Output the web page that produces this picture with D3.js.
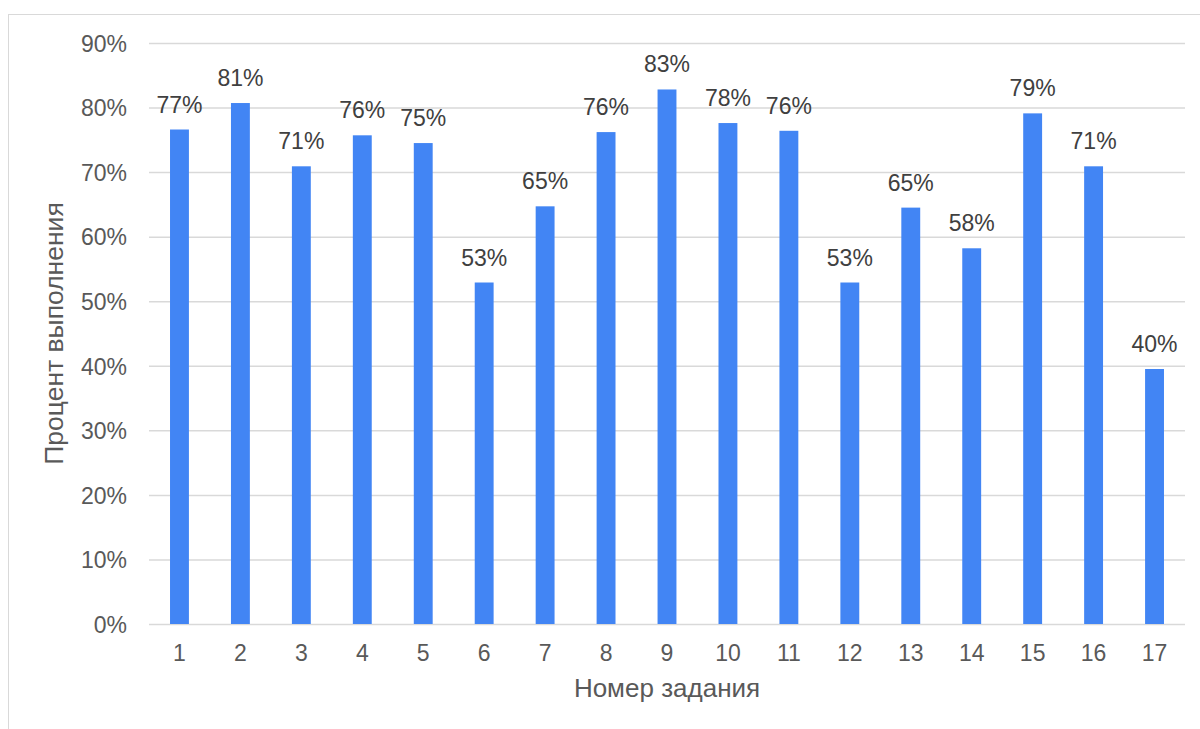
<!DOCTYPE html>
<html>
<head>
<meta charset="utf-8">
<script src="https://cdn.jsdelivr.net/npm/d3@7"></script>
<style>
  body { margin: 0; background: #fff; }
  svg { display: block; font-family: "Liberation Sans", Arial, sans-serif; }
</style>
</head>
<body>
<div id="vis"></div>
<script>
// task numbers and completion percent
const tasks = ["1", "2", "3", "4", "5", "6", "7", "8", "9", "10", "11", "12", "13", "14", "15", "16", "17"];
const percents = [76.6, 80.7, 70.9, 75.7, 74.5, 52.9, 64.7, 76.2, 82.8, 77.6, 76.4, 52.9, 64.5, 58.2, 79.1, 70.9, 39.5];
const yTicks = [0, 10, 20, 30, 40, 50, 60, 70, 80, 90];

const svgWidth = 1200, svgHeight = 729;
const margin = { left: 149, right: 15, top: 43, bottom: 105 };

let svg = d3.select("#vis").append("svg")
  .attr("width", svgWidth)
  .attr("height", svgHeight);

// outer chart frame (runs off the right and bottom edge)
svg.append("rect")
  .attr("x", 8.5).attr("y", 14.5)
  .attr("width", 1300).attr("height", 800)
  .attr("fill", "none")
  .attr("stroke", "#d9d9d9")
  .attr("stroke-width", 1);

let x = d3.scaleBand()
  .domain(tasks)
  .range([margin.left, svgWidth - margin.right])
  .paddingInner(0.69)
  .paddingOuter(0.345);

let y = d3.scaleLinear()
  .domain([0, 90])
  .range([svgHeight - margin.bottom, margin.top]);

// gridlines + y labels
let yAxis = svg.append("g")
  .attr("transform", `translate(${margin.left},0)`)
  .call(d3.axisLeft(y)
    .tickValues(yTicks)
    .tickSize(-(svgWidth - margin.left - margin.right))
    .tickPadding(22)
    .tickFormat(d => d + "%"));
yAxis.select(".domain").remove();
yAxis.selectAll(".tick line").attr("stroke", "#d9d9d9").attr("stroke-width", 1.5);
yAxis.selectAll(".tick text")
  .attr("fill", "#595959")
  .attr("font-size", 23)
  .attr("dy", "0.36em");

// bars
svg.append("g").selectAll("rect")
  .data(percents)
  .enter()
  .append("rect")
  .attr("x", (d, i) => x(tasks[i]))
  .attr("y", d => y(d))
  .attr("width", x.bandwidth())
  .attr("height", d => y(0) - y(d))
  .attr("fill", "#4285f4");

// value labels
svg.append("g").selectAll("text")
  .data(percents)
  .enter()
  .append("text")
  .attr("x", (d, i) => x(tasks[i]) + x.bandwidth() / 2)
  .attr("y", d => y(d) - 17)
  .attr("text-anchor", "middle")
  .attr("font-size", 23)
  .attr("fill", "#404040")
  .text(d => Math.round(d) + "%");

// x labels
let xAxis = svg.append("g")
  .attr("transform", `translate(0,${y(0)})`)
  .call(d3.axisBottom(x).tickSize(0).tickPadding(0));
xAxis.select(".domain").remove();
xAxis.selectAll(".tick text")
  .attr("fill", "#595959")
  .attr("font-size", 23)
  .attr("dy", null)
  .attr("y", 37);

// axis titles
svg.append("text")
  .attr("x", (margin.left + svgWidth - margin.right) / 2)
  .attr("y", 697)
  .attr("text-anchor", "middle")
  .attr("font-size", 26)
  .attr("fill", "#595959")
  .text("Номер задания");

svg.append("text")
  .attr("transform", `translate(63,${(y(0) + y(90)) / 2}) rotate(-90)`)
  .attr("text-anchor", "middle")
  .attr("font-size", 26.5)
  .attr("fill", "#595959")
  .text("Процент выполнения");
</script>
</body>
</html>
